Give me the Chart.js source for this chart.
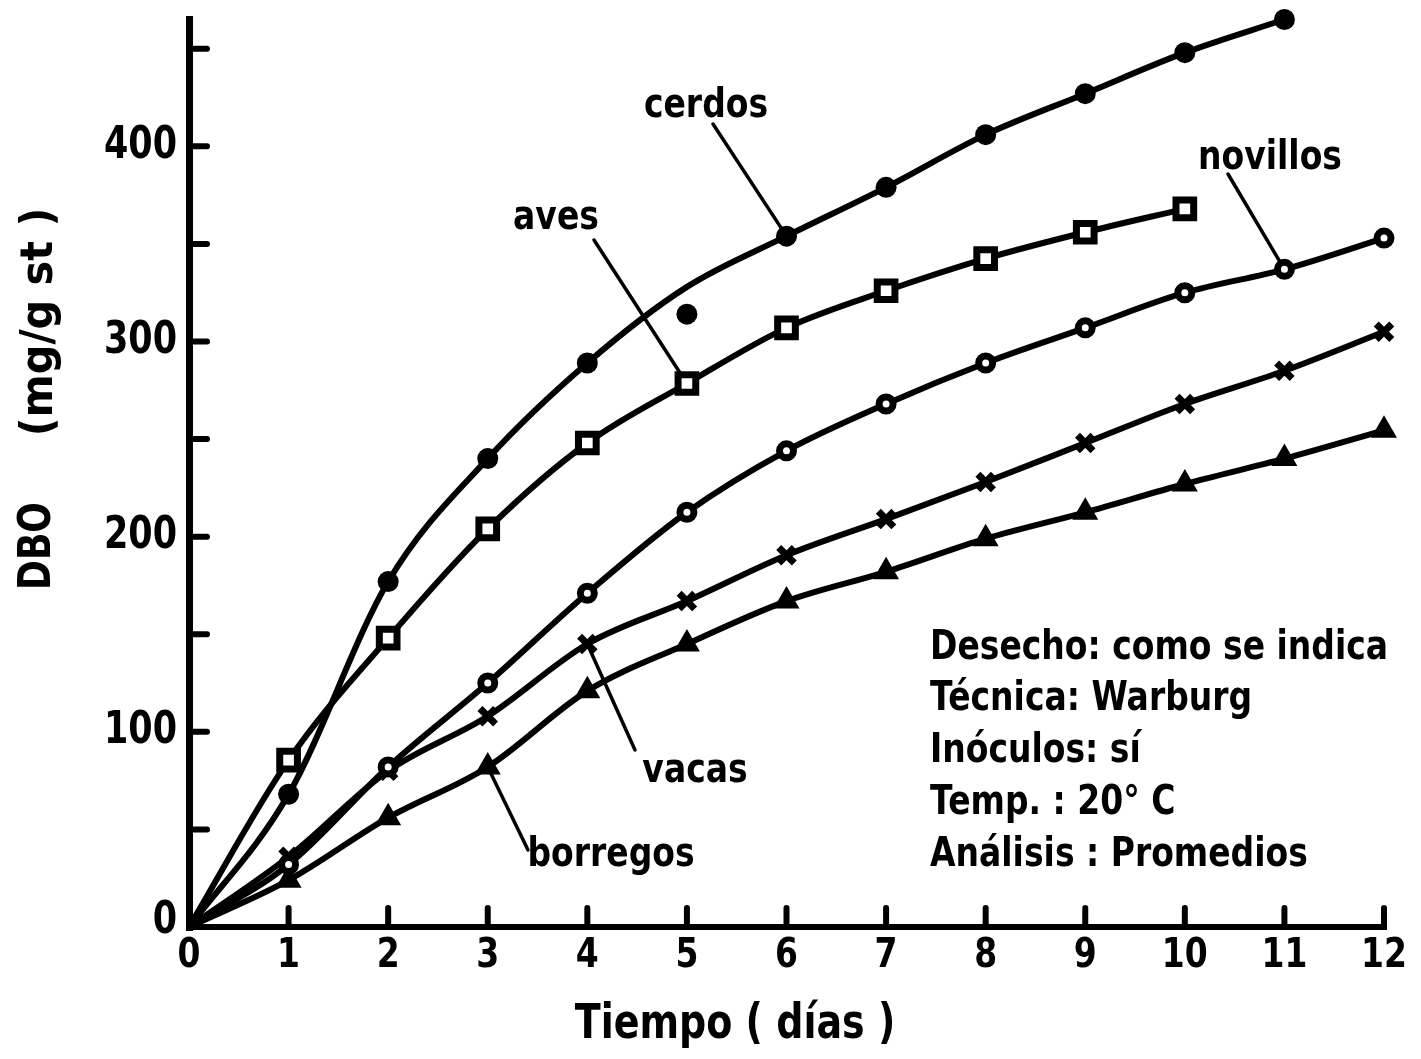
<!DOCTYPE html>
<html lang="es">
<head>
<meta charset="utf-8">
<title>DBO en función del tiempo</title>
<script src="https://cdn.jsdelivr.net/npm/chart.js@4.4.1/dist/chart.umd.min.js"></script>
<style>
  html, body { margin: 0; padding: 0; background: #fff; }
  canvas { display: block; }
</style>
</head>
<body>
<canvas id="dbo" width="1421" height="1059"></canvas>
<script>
// Días de incubación
const dias = [0, 1, 2, 3, 4, 5, 6, 7, 8, 9, 10, 11, 12];

// DBO acumulada (mg/g st) por tipo de desecho
const cerdos   = [0, 68, 177, 240, 289, 328, 354, 379, 406, 427, 448, 465];
const aves     = [0, 85.5, 148, 204, 248, 278.5, 307, 326, 342.5, 356, 368];
const novillos = [0, 32, 82, 125, 171, 212.5, 244, 268, 289, 307, 325, 337, 353];
const vacas    = [0, 36, 80, 108, 145, 167, 190.5, 209, 228, 248, 268, 285, 305];
const borregos = [0, 24, 56, 82, 121, 145, 167, 182, 199, 212.5, 227, 240, 254.5];

// Valor aislado de cerdos al día 5 (queda por debajo de la curva trazada)
const cerdosDia5 = 314;

// Días en que la curva pasa sin marcador
const diasSinMarca = {
  cerdos: [0, 5], aves: [0], novillos: [0], vacas: [0], borregos: [0]
};

// Ejes
const xTicks = dias;
const yTickLabels = [0, 100, 200, 300, 400];
const yTickMarks = [50, 100, 150, 200, 250, 300, 350, 400, 450];

// Condiciones del ensayo
const notas = [
  'Desecho: como se indica',
  'Técnica: Warburg',
  'Inóculos: sí',
  'Temp. : 20° C',
  'Análisis : Promedios'
];

const series = { cerdos, aves, novillos, vacas, borregos };

// Marcadores de cada serie
const estilos = {
  cerdos:   { pointStyle: 'circle',   r: 10.5, bg: '#000', bw: 0 },
  aves:     { pointStyle: 'rect',     r: 12.5, bg: '#fff', bw: 7 },
  novillos: { pointStyle: 'circle',   r: 7,    bg: '#fff', bw: 7 },
  vacas:    { pointStyle: 'crossRot', r: 11,   bg: '#000', bw: 7 },
  borregos: { pointStyle: 'triangle', r: 12,   bg: '#000', bw: 3 }
};

// Rótulos de curva con su línea de referencia
const rotulos = [
  { texto: 'cerdos',   cx: 706,  cy: 106, desde: [713, 124],  serie: 'cerdos',   dia: 6 },
  { texto: 'aves',     cx: 556,  cy: 218, desde: [594, 240],  serie: 'aves',     dia: 5 },
  { texto: 'novillos', cx: 1270, cy: 158, desde: [1228, 174], serie: 'novillos', dia: 11 },
  { texto: 'vacas',    cx: 695,  cy: 771, desde: [635, 750],  serie: 'vacas',    dia: 4 },
  { texto: 'borregos', cx: 611,  cy: 855, desde: [528, 850],  serie: 'borregos', dia: 3 }
];

const FAMILIA = '"DejaVu Sans", "Liberation Sans", sans-serif';

function serie(nombre) {
  const valores = series[nombre];
  const e = estilos[nombre];
  const puntos = valores.map((v, i) => ({ x: dias[i], y: v }));
  return {
    label: nombre,
    data: puntos,
    borderColor: '#000',
    borderWidth: 6,
    cubicInterpolationMode: 'monotone',
    clip: false,
    pointStyle: e.pointStyle,
    pointRadius: puntos.map(p => diasSinMarca[nombre].includes(p.x) ? 0 : e.r),
    pointBackgroundColor: e.bg,
    pointBorderColor: '#000',
    pointBorderWidth: e.bw
  };
}

function texto(ctx, str, x, y, size, align, sx, sy, rot) {
  ctx.save();
  ctx.translate(x, y);
  if (rot) ctx.rotate(rot);
  ctx.scale(sx, sy);
  ctx.font = 'bold ' + size + 'px ' + FAMILIA;
  ctx.fillStyle = '#000';
  ctx.textAlign = align;
  ctx.textBaseline = 'middle';
  ctx.fillText(str, 0, 0);
  ctx.restore();
}

function linea(ctx, x1, y1, x2, y2) {
  ctx.beginPath();
  ctx.moveTo(x1, y1);
  ctx.lineTo(x2, y2);
  ctx.stroke();
}

const trazos = {
  id: 'trazos',
  beforeDatasetsDraw(chart) {
    const { ctx, scales: { x, y } } = chart;
    ctx.save();
    ctx.strokeStyle = '#000';
    ctx.lineCap = 'round';

    // marcas interiores de los ejes
    ctx.lineWidth = 6;
    xTicks.forEach(v => {
      if (v === 0) return;
      const px = x.getPixelForValue(v);
      linea(ctx, px, y.bottom, px, y.bottom - 19);
    });
    yTickMarks.forEach(v => {
      const py = y.getPixelForValue(v);
      linea(ctx, x.left, py, x.left + 18, py);
    });

    // líneas de referencia de los rótulos
    ctx.lineWidth = 3.5;
    rotulos.forEach(r => {
      const px = x.getPixelForValue(r.dia);
      const py = y.getPixelForValue(series[r.serie][r.dia]);
      linea(ctx, r.desde[0], r.desde[1], px, py);
    });
    ctx.restore();
  },
  afterDraw(chart) {
    const { ctx, scales: { x, y } } = chart;
    // etiquetas de los ejes
    x.ticks.forEach(t => texto(ctx, String(t.value), x.getPixelForValue(t.value), 956, 33, 'center', 1, 1.25));
    y.ticks.forEach(t => texto(ctx, String(t.value), 177, y.getPixelForValue(t.value) - (t.value === 0 ? 5 : 0), 35, 'right', 1, 1.25));

    rotulos.forEach(r => texto(ctx, r.texto, r.cx, r.cy, 33, 'center', 1, 1.25));
    notas.forEach((n, i) => texto(ctx, n, 930, 648 + i * 51.7, 33, 'left', 1, 1.25));
    // títulos de los ejes
    texto(ctx, 'Tiempo ( días )', 735, 1026, 38, 'center', 1, 1.25);
    texto(ctx, 'DBO', 38, 546, 36, 'center', 1, 1.25, -Math.PI / 2);
    texto(ctx, '(mg/g st )', 40, 322, 36, 'center', 1.15, 1.25, -Math.PI / 2);
  }
};

function sinRelleno(s) {
  s.paddingTop = 0;
  s.paddingBottom = 0;
  s.paddingLeft = 0;
  s.paddingRight = 0;
}

new Chart(document.getElementById('dbo'), {
  type: 'line',
  data: {
    datasets: [
      serie('cerdos'),
      {
        label: 'cerdos (día 5)',
        data: [{ x: 5, y: cerdosDia5 }],
        showLine: false,
        clip: false,
        pointStyle: 'circle',
        pointRadius: 10.5,
        pointBackgroundColor: '#000',
        pointBorderWidth: 0
      },
      serie('aves'),
      serie('novillos'),
      serie('vacas'),
      serie('borregos')
    ]
  },
  options: {
    responsive: false,
    animation: false,
    events: [],
    layout: { padding: { top: 19, right: 37, left: 0, bottom: 0 } },
    plugins: { legend: { display: false }, tooltip: { enabled: false } },
    scales: {
      x: {
        type: 'linear',
        min: 0,
        max: 12,
        afterBuildTicks: s => { s.ticks = xTicks.map(v => ({ value: v })); },
        afterFit: s => { s.height = 132; sinRelleno(s); },
        grid: { drawOnChartArea: false, drawTicks: false, lineWidth: 6, color: '#000' },
        border: { display: true, color: '#000', width: 6 },
        ticks: { display: false }
      },
      y: {
        type: 'linear',
        min: 0,
        max: 465,
        afterBuildTicks: s => { s.ticks = yTickLabels.map(v => ({ value: v })); },
        afterFit: s => { s.width = 189; sinRelleno(s); },
        grid: { drawOnChartArea: false, drawTicks: false, lineWidth: 7, color: '#000' },
        border: { display: true, color: '#000', width: 7 },
        ticks: { display: false }
      }
    }
  },
  plugins: [trazos]
});
</script>
</body>
</html>
